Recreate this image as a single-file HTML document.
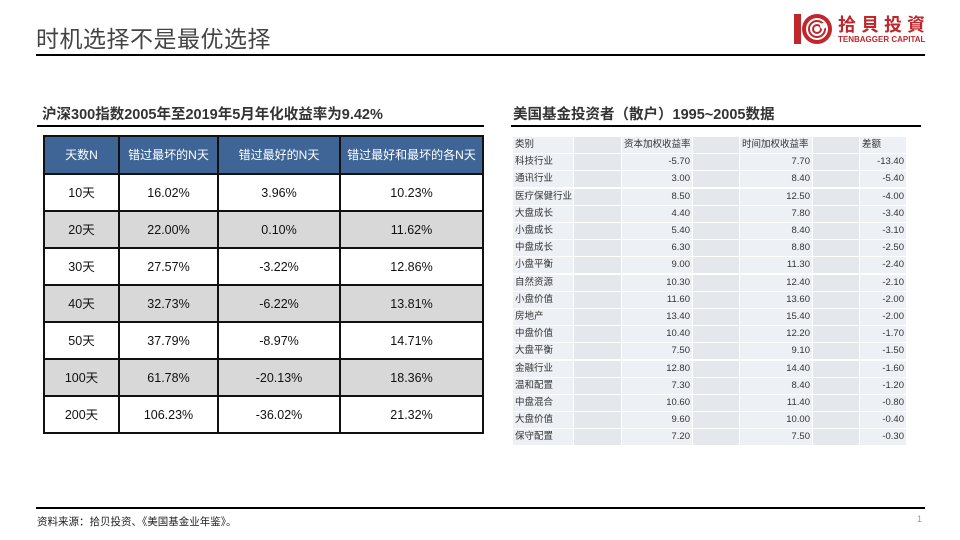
<!DOCTYPE html>
<html><head><meta charset="utf-8"><style>
*{margin:0;padding:0;box-sizing:border-box}
body{width:960px;height:540px;background:#fff;position:relative;overflow:hidden;font-family:"Liberation Sans","Noto Sans CJK SC",sans-serif}
.a{position:absolute}
#lt{position:absolute;left:43px;top:135px;width:441px;border-collapse:collapse;border:2px solid #111}
#lt td{border:2px solid #111;text-align:center;font-size:12.5px;color:#111;height:37px;padding:0;line-height:14px}
#lt tr.h td{background:#3e6596;color:#fff;height:38px;font-size:12px}
#lt tr.g td{background:#d8d8d8}
.c{position:absolute;height:16px;background:#edf0f5;font-size:9.5px;line-height:16px;color:#333;padding:0 2px;white-space:nowrap;overflow:hidden}
.c.b{background:#e4e7ec}
.c.r{text-align:right}
</style></head><body>
<div class="a" style="left:36px;top:20px;font-size:23px;color:#444;letter-spacing:0.5px">时机选择不是最优选择</div>
<div class="a" style="left:36px;top:54px;width:889px;height:2px;background:#000"></div>
<svg class="a" style="left:793px;top:12px" width="40" height="34" viewBox="0 0 40 34">
<rect x="1" y="2" width="7" height="30" fill="#c0272d"/>
<circle cx="24" cy="17" r="15" fill="#c0272d"/>
<circle cx="24" cy="17" r="11" fill="#fff"/>
<circle cx="24" cy="17" r="8" fill="none" stroke="#c0272d" stroke-width="2"/>
<circle cx="24" cy="17" r="4" fill="none" stroke="#c0272d" stroke-width="2"/>
<circle cx="30" cy="14" r="3" fill="#fff"/>
</svg>
<div class="a" style="left:838px;top:11px;font-size:18px;font-weight:bold;color:#c0272d;letter-spacing:5px">拾貝投資</div>
<div class="a" style="left:838px;top:35px;font-size:8px;font-weight:bold;color:#c0272d;letter-spacing:0">TENBAGGER CAPITAL</div>

<div class="a" style="left:42px;top:103px;font-size:14.5px;font-weight:bold;color:#333">沪深300指数2005年至2019年5月年化收益率为9.42%</div>
<div class="a" style="left:37px;top:125px;width:447px;height:2px;background:#000"></div>
<table id="lt">
<colgroup><col style="width:75px"><col style="width:99px"><col style="width:122px"><col></colgroup>
<tr class="h"><td>天数N</td><td>错过最坏的N天</td><td>错过最好的N天</td><td>错过最好和最坏的各N天</td></tr>
<tr><td>10天</td><td>16.02%</td><td>3.96%</td><td>10.23%</td></tr>
<tr class="g"><td>20天</td><td>22.00%</td><td>0.10%</td><td>11.62%</td></tr>
<tr><td>30天</td><td>27.57%</td><td>-3.22%</td><td>12.86%</td></tr>
<tr class="g"><td>40天</td><td>32.73%</td><td>-6.22%</td><td>13.81%</td></tr>
<tr><td>50天</td><td>37.79%</td><td>-8.97%</td><td>14.71%</td></tr>
<tr class="g"><td>100天</td><td>61.78%</td><td>-20.13%</td><td>18.36%</td></tr>
<tr><td>200天</td><td>106.23%</td><td>-36.02%</td><td>21.32%</td></tr>
</table>

<div class="a" style="left:513px;top:103px;font-size:14.5px;font-weight:bold;color:#333">美国基金投资者（散户）1995~2005数据</div>
<div class="a" style="left:511px;top:125px;width:410px;height:2px;background:#000"></div>
<div id="rt"></div>
<script>
var rows=[["类别","资本加权收益率","时间加权收益率","差额"],
["科技行业","-5.70","7.70","-13.40"],["通讯行业","3.00","8.40","-5.40"],["医疗保健行业","8.50","12.50","-4.00"],
["大盘成长","4.40","7.80","-3.40"],["小盘成长","5.40","8.40","-3.10"],["中盘成长","6.30","8.80","-2.50"],
["小盘平衡","9.00","11.30","-2.40"],["自然资源","10.30","12.40","-2.10"],["小盘价值","11.60","13.60","-2.00"],
["房地产","13.40","15.40","-2.00"],["中盘价值","10.40","12.20","-1.70"],["大盘平衡","7.50","9.10","-1.50"],
["金融行业","12.80","14.40","-1.60"],["温和配置","7.30","8.40","-1.20"],["中盘混合","10.60","11.40","-0.80"],
["大盘价值","9.60","10.00","-0.40"],["保守配置","7.20","7.50","-0.30"]];
var xs=[513,574,622,693,740,813,860,907],h="";
rows.forEach(function(r,i){var y=Math.round(137+i*17.2);
for(var c=0;c<7;c++){var cls="c",t="";
if(c%2==1)cls+=" b";else{t=r[c/2];if(i>0&&c>0)cls+=" r";}
h+='<div class="'+cls+'" style="left:'+xs[c]+'px;top:'+y+'px;width:'+(xs[c+1]-xs[c]-1)+'px">'+t+'</div>';}});
document.getElementById("rt").innerHTML=h;
</script>

<div class="a" style="left:36px;top:507px;width:889px;height:2px;background:#000"></div>
<div class="a" style="left:37px;top:514px;font-size:10.5px;color:#222">资料来源：拾贝投资、《美国基金业年鉴》。</div>
<div class="a" style="left:917px;top:514px;font-size:9px;color:#999">1</div>
</body></html>
